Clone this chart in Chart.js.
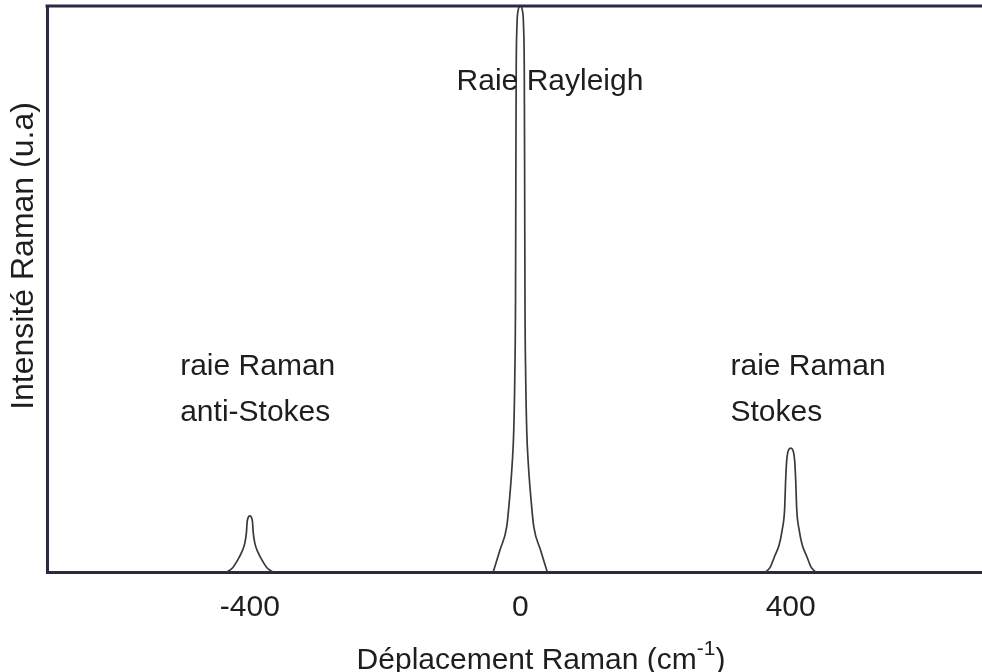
<!DOCTYPE html>
<html lang="fr">
<head>
  <meta charset="UTF-8">
  <title>Spectre Raman</title>
  <script src="https://cdn.jsdelivr.net/npm/chart.js"></script>
  <style>
    body { margin: 0; background: #fff; }
  </style>
</head>
<body>
<canvas id="spectre" width="982" height="672"></canvas>

<script>
  // valeurs
  const antiStokesX = [-434, -425, -418, -412, -407.4, -405, -404, -402.5, -400, -397.5, -396, -395, -392.6, -388, -382, -375, -366];
  const antiStokesY = [0, 0.8, 2.1, 3.5, 5.1, 7, 8.8, 9.6, 9.9, 9.6, 8.8, 7, 5.1, 3.5, 2.1, 0.8, 0];

  const rayleighX = [-40, -30, -20, -16, -12, -9.6, -8, -7, -6.5, -6, -5, -3, 0, 3, 5, 6, 6.5, 7, 8, 9.6, 12, 16, 20, 30, 40];
  const rayleighY = [0, 3.9, 8, 12.7, 19, 25, 35, 48, 70, 88, 96, 99.3, 100, 99.3, 96, 88, 70, 48, 35, 25, 19, 12.7, 8, 3.9, 0];

  const stokesX = [363, 370, 376, 383, 387.4, 391, 392.6, 394, 395.5, 397.5, 400, 402.5, 404.5, 406, 407.4, 409, 412.6, 417, 424, 430, 437];
  const stokesY = [0, 0.9, 2.7, 4.8, 7.4, 11, 16.3, 19.5, 21, 21.7, 21.9, 21.7, 21, 19.5, 16.3, 11, 7.4, 4.8, 2.7, 0.9, 0];

  const xTicks = [-400, 0, 400];

  const police = '"Liberation Sans", Arial, Helvetica, sans-serif';
  const couleurTexte = '#1e1e1e';
  const couleurCadre = '#2b2a45';

  function points(xs, ys) {
    return xs.map(function (x, i) { return { x: x, y: ys[i] }; });
  }

  function serie(xs, ys) {
    return {
      data: points(xs, ys),
      borderColor: '#3a3a3a',
      borderWidth: 1.7,
      pointRadius: 0,
      fill: false,
      cubicInterpolationMode: 'monotone'
    };
  }

  // textes sur le graphique + bord du haut + titres des axes
  const textesPlugin = {
    id: 'textes',
    afterDraw: function (chart) {
      const ctx = chart.ctx;
      const x = chart.scales.x;
      const y = chart.scales.y;
      const area = chart.chartArea;

      ctx.save();
      ctx.strokeStyle = couleurCadre;
      ctx.lineWidth = 3;
      ctx.beginPath();
      ctx.moveTo(area.left - 1.5, area.top);
      ctx.lineTo(area.right, area.top);
      ctx.stroke();

      ctx.fillStyle = couleurTexte;
      ctx.font = '30px ' + police;
      ctx.textBaseline = 'middle';

      ctx.textAlign = 'center';
      ctx.fillText('Raie Rayleigh', x.getPixelForValue(44), y.getPixelForValue(86.6));

      ctx.textAlign = 'left';
      ctx.fillText('raie Raman', x.getPixelForValue(-503), y.getPixelForValue(36.2));
      ctx.fillText('anti-Stokes', x.getPixelForValue(-503), y.getPixelForValue(28.2));
      ctx.fillText('raie Raman', x.getPixelForValue(311), y.getPixelForValue(36.2));
      ctx.fillText('Stokes', x.getPixelForValue(311), y.getPixelForValue(28.2));

      // titre axe y
      ctx.save();
      ctx.translate(24, 256);
      ctx.rotate(-Math.PI / 2);
      ctx.textAlign = 'center';
      ctx.font = '32px ' + police;
      ctx.fillText('Intensité Raman (u.a)', 0, 0);
      ctx.restore();

      // titre axe x avec exposant
      const debut = 'Déplacement Raman (cm';
      const expo = '-1';
      const fin = ')';
      ctx.textAlign = 'left';
      ctx.font = '30px ' + police;
      const w1 = ctx.measureText(debut).width;
      const w3 = ctx.measureText(fin).width;
      ctx.font = '21px ' + police;
      const w2 = ctx.measureText(expo).width;
      const total = w1 + w2 + w3;
      let px = 541 - total / 2;
      const base = 669;
      ctx.textBaseline = 'alphabetic';
      ctx.font = '30px ' + police;
      ctx.fillText(debut, px, base);
      px += w1;
      ctx.font = '21px ' + police;
      ctx.fillText(expo, px, base - 14);
      px += w2;
      ctx.font = '30px ' + police;
      ctx.fillText(fin, px, base);
      ctx.restore();
    }
  };

  const config = {
    type: 'line',
    data: {
      datasets: [
        serie(antiStokesX, antiStokesY),
        serie(rayleighX, rayleighY),
        serie(stokesX, stokesY)
      ]
    },
    options: {
      responsive: false,
      animation: false,
      layout: { padding: { top: 6, right: 0, left: 0, bottom: 0 } },
      plugins: {
        legend: { display: false },
        tooltip: { enabled: false }
      },
      scales: {
        x: {
          type: 'linear',
          min: -700,
          max: 683,
          grid: { display: false, drawTicks: false },
          border: { display: true, color: couleurCadre, width: 3 },
          afterBuildTicks: function (scale) {
            scale.ticks = xTicks.map(function (v) { return { value: v }; });
          },
          ticks: {
            color: couleurTexte,
            font: { family: police, size: 30 },
            padding: 18,
            maxRotation: 0,
            autoSkip: false
          },
          afterFit: function (scale) { scale.height = 100; }
        },
        y: {
          min: 0,
          max: 100,
          grid: { display: false, drawTicks: false },
          border: { display: true, color: couleurCadre, width: 3 },
          ticks: { display: false },
          afterFit: function (scale) { scale.width = 47; }
        }
      }
    },
    plugins: [textesPlugin]
  };

  new Chart(document.getElementById('spectre'), config);
</script>
</body>
</html>
